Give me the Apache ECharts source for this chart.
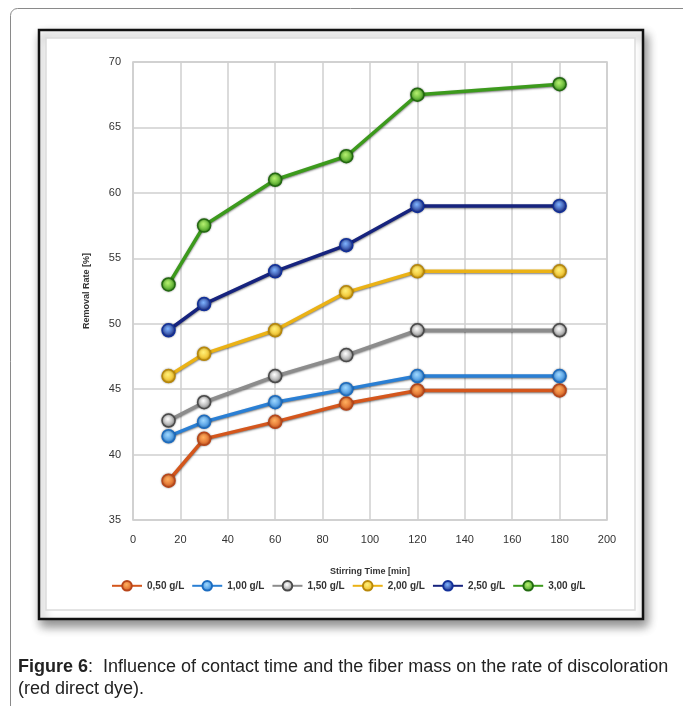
<!DOCTYPE html>
<html>
<head>
<meta charset="utf-8">
<script src="https://cdn.jsdelivr.net/npm/echarts@6/dist/echarts.min.js"></script>
<style>
  html, body { margin: 0; padding: 0; background: #fff; }
  #chart { width: 683px; height: 706px; }
</style>
</head>
<body>
<div id="chart"></div>
<script>
// stirring time (min)
var times = [15, 30, 60, 90, 120, 180];
// removal rate (%) for each fiber mass
var rate050 = [38.0, 41.2, 42.5, 43.9, 44.9, 44.9];
var rate100 = [41.4, 42.5, 44.0, 45.0, 46.0, 46.0];
var rate150 = [42.6, 44.0, 46.0, 47.6, 49.5, 49.5];
var rate200 = [46.0, 47.7, 49.5, 52.4, 54.0, 54.0];
var rate250 = [49.5, 51.5, 54.0, 56.0, 59.0, 59.0];
var rate300 = [53.0, 57.5, 61.0, 62.8, 67.5, 68.3];
var massNames = ['0,50 g/L', '1,00 g/L', '1,50 g/L', '2,00 g/L', '2,50 g/L', '3,00 g/L'];

var xTicks = [0, 20, 40, 60, 80, 100, 120, 140, 160, 180, 200];
var yTicks = [35, 40, 45, 50, 55, 60, 65, 70];

var allRates = [rate050, rate100, rate150, rate200, rate250, rate300];
// line colour, marker centre, marker edge
var looks = [
  ['#d4561c', '#ffb060', '#b8461a'],
  ['#2a7fd4', '#9fd8ff', '#1c6cc0'],
  ['#8c8c8c', '#ffffff', '#4a4a4a'],
  ['#ebb215', '#fff07a', '#b8880a'],
  ['#16237e', '#7fb4ff', '#12309a'],
  ['#3c9a1c', '#b6f070', '#226a10']
];

var font = 'Arial, "Liberation Sans", sans-serif';

function pairs(vals) {
  var out = [];
  for (var i = 0; i < times.length; i++) out.push([times[i], vals[i]]);
  return out;
}

var series = [];
for (var s = 0; s < allRates.length; s++) {
  var lk = looks[s];
  series.push({
    name: massNames[s],
    type: 'line',
    data: pairs(allRates[s]),
    symbol: 'circle',
    symbolSize: 13,
    z: 2 + s,
    lineStyle: {
      color: lk[0],
      width: 3.5,
      shadowColor: 'rgba(0,0,0,0.5)',
      shadowBlur: 2,
      shadowOffsetY: 1
    },
    itemStyle: {
      color: {
        type: 'radial', x: 0.45, y: 0.4, r: 0.6,
        colorStops: [{ offset: 0, color: lk[1] }, { offset: 1, color: lk[0] }]
      },
      borderColor: lk[2],
      borderWidth: 1.5,
      shadowColor: 'rgba(0,0,0,0.4)',
      shadowBlur: 2
    },
    emphasis: { disabled: true }
  });
}

var chart = echarts.init(document.getElementById('chart'));
chart.setOption({
  animation: false,
  textStyle: { fontFamily: font },
  graphic: [
    {
      type: 'rect', silent: true, z: -10,
      shape: { x: 10.5, y: 8.5, width: 680, height: 720, r: 7 },
      style: { fill: '#fff', stroke: '#8a8a8a', lineWidth: 1 }
    },
    {
      type: 'rect', silent: true, z: -9,
      shape: { x: 39, y: 30, width: 604, height: 589 },
      style: {
        fill: '#fff', stroke: '#111', lineWidth: 2.5,
        shadowColor: 'rgba(0,0,0,0.45)', shadowBlur: 10, shadowOffsetX: 3, shadowOffsetY: 6
      }
    },
    {
      type: 'rect', silent: true, z: -8,
      shape: { x: 46, y: 38, width: 589, height: 572 },
      style: { fill: '#fff', stroke: '#dcdcdc', lineWidth: 1.5 }
    },
    {
      type: 'text', silent: true, left: 18, top: 656,
      style: {
        text: '{b|Figure 6}:  Influence of contact time and the fiber mass on the rate of discoloration\n(red direct dye).',
        font: '18px ' + font,
        fill: '#222',
        lineHeight: 22,
        rich: { b: { fontWeight: 'bold', fontSize: 18, fontFamily: font, fill: '#222' } }
      }
    }
  ],
  grid: { left: 133, right: 76, top: 62, bottom: 186, show: true, borderColor: '#c8c8c8', borderWidth: 1.5 },
  legend: {
    top: 575,
    left: 106,
    itemWidth: 30,
    itemHeight: 12,
    itemGap: 7,
    textStyle: { fontSize: 10, color: '#333', fontWeight: 'bold', fontFamily: font },
    data: massNames
  },
  xAxis: {
    type: 'value',
    min: xTicks[0],
    max: xTicks[xTicks.length - 1],
    interval: xTicks[1] - xTicks[0],
    name: 'Stirring Time [min]',
    nameLocation: 'middle',
    nameGap: 47,
    nameTextStyle: { fontSize: 9, fontWeight: 'bold', color: '#333' },
    axisLine: { show: false },
    axisTick: { show: false },
    axisLabel: { fontSize: 11, color: '#333', margin: 14 },
    splitLine: { show: true, lineStyle: { color: '#cfcfcf', width: 1.5 } }
  },
  yAxis: {
    type: 'value',
    min: yTicks[0],
    max: yTicks[yTicks.length - 1],
    interval: yTicks[1] - yTicks[0],
    name: 'Removal Rate [%]',
    nameLocation: 'middle',
    nameRotate: 90,
    nameGap: 42,
    nameTextStyle: { fontSize: 9, fontWeight: 'bold', color: '#333' },
    axisLine: { show: false },
    axisTick: { show: false },
    axisLabel: { fontSize: 11, color: '#333', margin: 12 },
    splitLine: { show: true, lineStyle: { color: '#cfcfcf', width: 1.5 } }
  },
  series: series
});
</script>
</body>
</html>
